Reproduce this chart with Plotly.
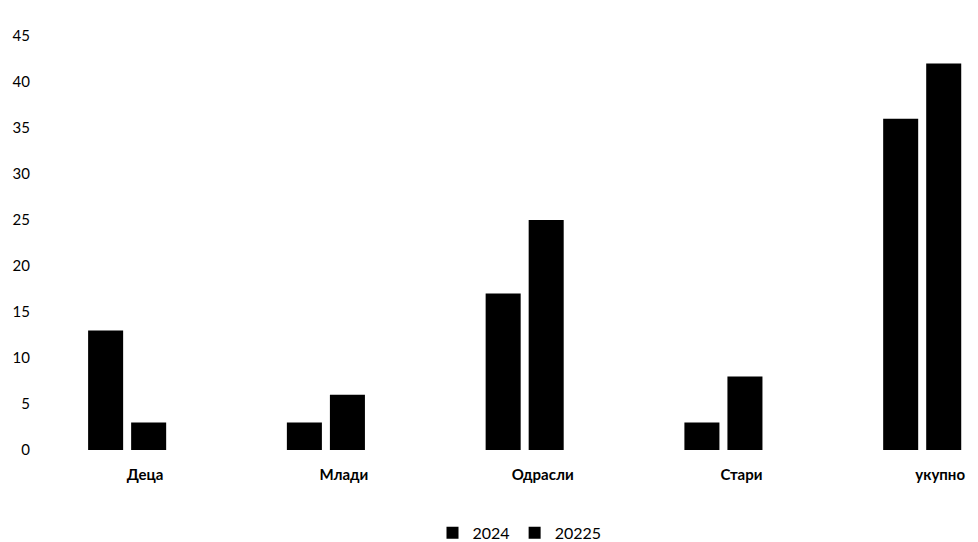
import plotly.graph_objects as go

categories = ["Деца", "Млади", "Одрасли", "Стари", "укупно"]
series_names = ["2024", "20225"]
values_2024 = [13, 3, 17, 3, 36]
values_2025 = [3, 6, 25, 8, 42]
y_ticks = [0, 5, 10, 15, 20, 25, 30, 35, 40, 45]

font_family = "Lato, 'Open Sans', 'DejaVu Sans', sans-serif"

fig = go.Figure()
fig.add_trace(go.Bar(name=series_names[0], x=categories, y=values_2024,
                     marker=dict(color="#000000", line=dict(width=0))))
fig.add_trace(go.Bar(name=series_names[1], x=categories, y=values_2025,
                     marker=dict(color="#000000", line=dict(width=0))))

fig.update_layout(
    width=978, height=542,
    margin=dict(l=45, r=0, t=28, b=94),
    paper_bgcolor="white", plot_bgcolor="white",
    barmode="group", bargap=0.567, bargroupgap=0.186,
    font=dict(family=font_family, size=15, color="#000000"),
    showlegend=True,
    legend=dict(orientation="h", x=0.5, xanchor="center", y=-0.2, yanchor="middle",
                font=dict(size=16), itemwidth=30, traceorder="normal"),
    xaxis=dict(range=[-0.373, 4.321], showgrid=False, showline=False, zeroline=False,
               ticks="", ticklabelstandoff=14, ticklabelshift=18,
               tickfont=dict(size=15, family=font_family, weight="bold")),
    yaxis=dict(range=[0, 45], tickvals=y_ticks, showgrid=False, showline=False,
               zeroline=False, ticks="", ticklabelstandoff=22,
               tickfont=dict(size=15, family=font_family)),
)

fig.write_html("out.html")
